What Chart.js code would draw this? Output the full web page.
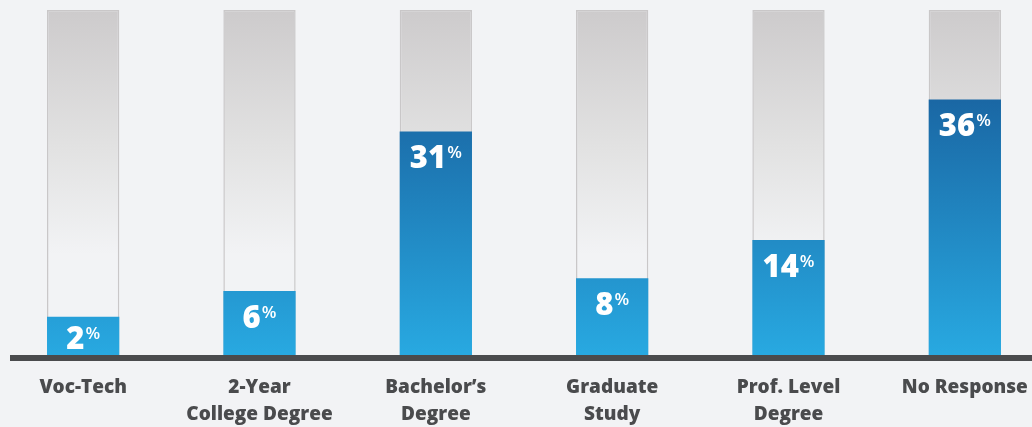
<!DOCTYPE html>
<html>
<head>
<meta charset="utf-8">
<title>Education</title>
<script src="https://cdn.jsdelivr.net/npm/chart.js@4/dist/chart.umd.min.js"></script>
<style>
  html, body { margin: 0; padding: 0; background: #f2f3f5; overflow: hidden; }
  #wrap { position: absolute; left: -5px; top: 0; width: 1058px; height: 427px; }
</style>
</head>
<body>
<div id="wrap"><canvas id="eduChart"></canvas></div>
<script>
// categories (two lines each) and percentages
const categorias = [
    ['Voc-Tech'],
    ['2-Year', 'College Degree'],
    ['Bachelor\u2019s', 'Degree'],
    ['Graduate', 'Study'],
    ['Prof. Level', 'Degree'],
    ['No Response']
];
const porcentajes = [2, 6, 31, 8, 14, 36];
// full height of the grey background bars
const fondo = [50, 50, 50, 50, 50, 50];
const ejeMin = -4;
const ejeMax = 50;

document.addEventListener("DOMContentLoaded", function() {
    const ctx = document.getElementById('eduChart').getContext('2d');

    // gradients depend on the chart area, so they are built on the fly
    function grisGradiente(context) {
        const chart = context.chart;
        const area = chart.chartArea;
        if (!area) return '#d6d5d6';
        const g = chart.ctx.createLinearGradient(0, area.top, 0, area.bottom);
        g.addColorStop(0, '#cdcbcc');
        g.addColorStop(0.4, '#e2e2e2');
        g.addColorStop(0.71, '#f2f3f5');
        g.addColorStop(1, '#f2f3f5');
        return g;
    }
    function azulGradiente(context) {
        const chart = context.chart;
        const area = chart.chartArea;
        if (!area) return '#2289c6';
        const y = chart.scales.y;
        const top = y.getPixelForValue(36);
        const g = chart.ctx.createLinearGradient(0, top, 0, area.bottom);
        g.addColorStop(0, '#1a67a4');
        g.addColorStop(1, '#28a9e1');
        return g;
    }

    // thick dark line under the bars
    const lineaBase = {
        id: 'lineaBase',
        afterDatasetsDraw(chart) {
            const c = chart.ctx;
            const area = chart.chartArea;
            c.save();
            c.fillStyle = '#4a4b4d';
            c.fillRect(15, area.bottom, chart.width - 15, 6);
            c.restore();
        }
    };

    // white value labels with a small raised % sign
    const etiquetas = {
        id: 'etiquetas',
        afterDatasetsDraw(chart) {
            const c = chart.ctx;
            const meta = chart.getDatasetMeta(1);
            const fNum = '800 31px "Open Sans"';
            const fPct = '600 17px "Open Sans"';
            c.save();
            c.fillStyle = '#ffffff';
            c.textBaseline = 'alphabetic';
            c.textAlign = 'left';
            meta.data.forEach((bar, i) => {
                const num = String(porcentajes[i]);
                c.font = fNum;
                const wNum = c.measureText(num).width;
                c.font = fPct;
                const wPct = c.measureText('%').width;
                const x0 = bar.x - (wNum + wPct + 1) / 2;
                let yb = bar.y + 37;
                if (yb > bar.base - 6) yb = bar.base - 6;
                c.font = fNum;
                c.fillText(num, x0, yb);
                c.font = fPct;
                c.fillText('%', x0 + wNum + 1, yb - 10);
            });
            c.restore();
        }
    };

    new Chart(ctx, {
        type: 'bar',
        data: {
            labels: categorias,
            datasets: [{
                label: 'fondo',
                data: fondo,
                base: ejeMin,
                backgroundColor: grisGradiente,
                borderColor: '#c9c7c8',
                borderWidth: { top: 1.5, left: 1.5, right: 1.5, bottom: 0 },
                borderSkipped: 'bottom',
                order: 2
            }, {
                label: 'Porcentaje',
                data: porcentajes,
                base: ejeMin,
                backgroundColor: azulGradiente,
                borderWidth: 0,
                order: 1
            }]
        },
        options: {
            responsive: true,
            maintainAspectRatio: false,
            animation: false,
            layout: { padding: { top: 10, left: 0, right: 0, bottom: 0 } },
            datasets: {
                bar: {
                    grouped: false,
                    barPercentage: 0.41,
                    categoryPercentage: 1
                }
            },
            plugins: {
                legend: { display: false },
                tooltip: { enabled: false }
            },
            scales: {
                x: {
                    grid: { display: false, drawTicks: false },
                    border: { display: false },
                    ticks: {
                        color: '#4a4b4d',
                        font: { family: 'Open Sans', weight: '800', size: 19, lineHeight: 1.42 },
                        padding: 19,
                        maxRotation: 0,
                        autoSkip: false
                    },
                    afterFit: function(scale) { scale.height = 72; }
                },
                y: {
                    display: false,
                    min: ejeMin,
                    max: ejeMax
                }
            }
        },
        plugins: [lineaBase, etiquetas]
    });
});
</script>
</body>
</html>
